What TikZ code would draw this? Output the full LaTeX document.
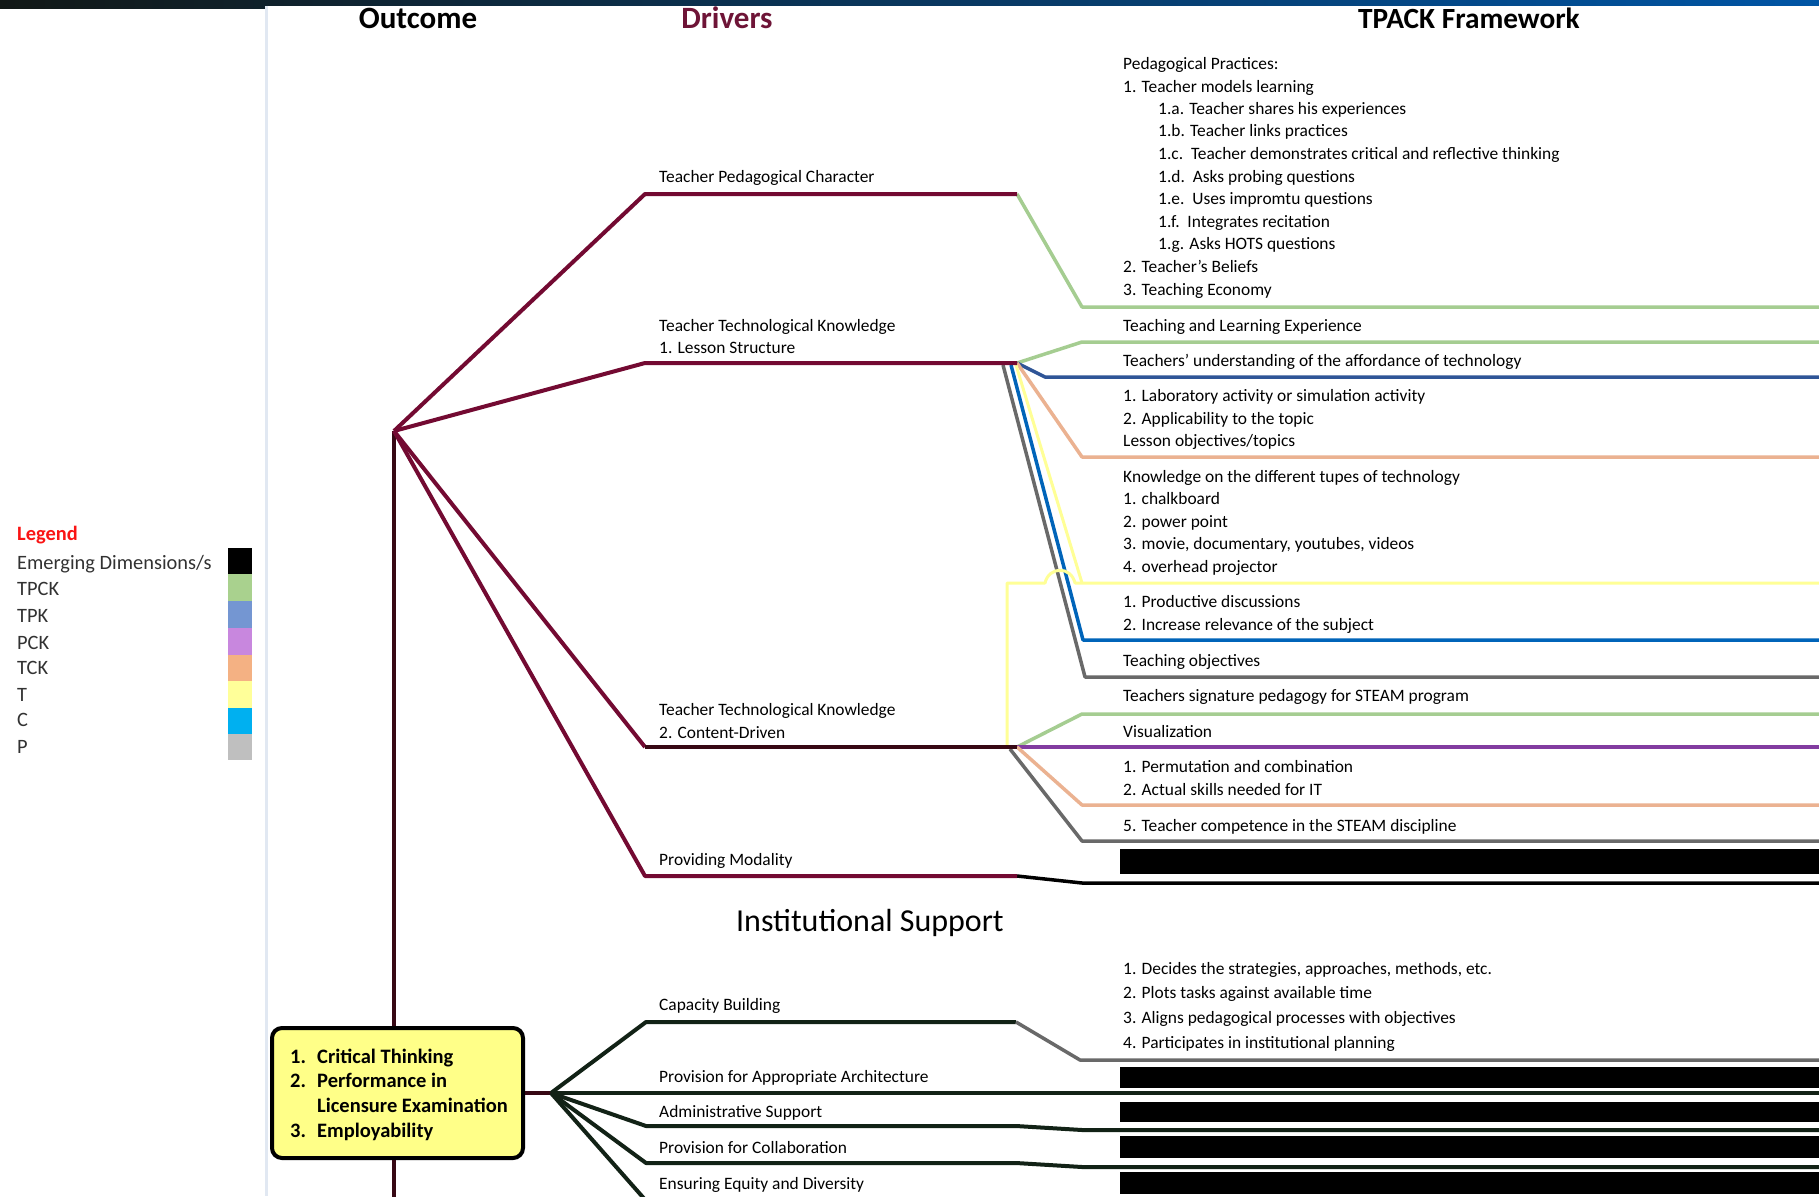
\documentclass[tikz,border=0pt]{standalone}
\usepackage{fontspec}
\setmainfont{Carlito}
\definecolor{maroon}{RGB}{115,10,50}
\definecolor{darkmar}{RGB}{55,8,20}
\definecolor{drvcol}{RGB}{110,20,55}
\definecolor{tpckc}{RGB}{165,205,145}
\definecolor{tpkc}{RGB}{47,85,151}
\definecolor{pckc}{RGB}{130,60,160}
\definecolor{tckc}{RGB}{235,178,145}
\definecolor{tyel}{RGB}{255,255,150}
\definecolor{cblue}{RGB}{0,100,185}
\definecolor{pgray}{RGB}{105,105,105}
\definecolor{instc}{RGB}{18,34,22}
\definecolor{boxyel}{RGB}{255,255,136}
\definecolor{legtxt}{RGB}{50,50,50}
\definecolor{legred}{RGB}{250,20,20}
\definecolor{lgreen}{RGB}{169,209,142}
\definecolor{lblue}{RGB}{116,150,210}
\definecolor{lpurple}{RGB}{200,135,222}
\definecolor{lorange}{RGB}{244,177,131}
\definecolor{lyellow}{RGB}{255,255,153}
\definecolor{lcyan}{RGB}{0,176,240}
\definecolor{lgray}{RGB}{191,191,191}
\definecolor{panelb}{RGB}{225,232,242}
\definecolor{stripL}{RGB}{18,24,22}
\definecolor{stripR}{RGB}{0,85,165}
\begin{document}
\begin{tikzpicture}[x=1pt,y=-1pt,
  txt/.style={anchor=mid west,inner sep=0pt,yshift=-3.5pt,font=\fontsize{17.4}{20}\selectfont},
  hdr/.style={anchor=base,inner sep=0pt,font=\fontsize{31}{36}\selectfont\bfseries},
  legtext/.style={anchor=mid west,inner sep=0pt,yshift=-4.5pt,font=\fontsize{20.4}{24}\selectfont,text=legtxt},
  ln-mar/.style={draw=maroon,line width=4,line join=round},
  ln-dmar/.style={draw=darkmar,line width=4,line join=round},
  ln-v/.style={draw=darkmar,line width=4},
  ln-tpck/.style={draw=tpckc,line width=3.5,line join=round},
  ln-tpk/.style={draw=tpkc,line width=3.5,line join=round},
  ln-pck/.style={draw=pckc,line width=3.5,line join=round},
  ln-tck/.style={draw=tckc,line width=3.5,line join=round},
  ln-t/.style={draw=tyel,line width=3,line join=round},
  ln-c/.style={draw=cblue,line width=3.5,line join=round},
  ln-p/.style={draw=pgray,line width=3.5,line join=round},
  ln-blk/.style={draw=black,line width=3.5,line join=round},
  ln-inst/.style={draw=instc,line width=4,line join=round},
  outbox/.style={draw=black,line width=4,fill=boxyel,rounded corners=10pt,minimum width=251pt,minimum height=130pt,inner sep=0pt},
  boxtxt/.style={anchor=west,inner sep=0pt,yshift=-2.5pt,align=left,font=\fontsize{20.5}{24.6}\selectfont\bfseries}
]
\useasboundingbox (0,0) rectangle (1819,1196);
\begin{scope}
\clip (0,0) rectangle (1819,1196);
% background
\fill[white] (0,0) rectangle (1819,1196);
\shade[left color=stripL,right color=stripR] (0,0) rectangle (1819,9);
\fill[white] (265,6) rectangle (1819,1196);
\draw[panelb,line width=3] (266.5,6) -- (266.5,1196);

% headers
\node[hdr] (hOut) at (418,29) {Outcome};
\node[hdr,text=drvcol] (hDrv) at (727,29) {Drivers};
\node[hdr,font=\fontsize{29.3}{34}\selectfont\bfseries] (hTp) at (1469,29) {TPACK Framework};
\node[anchor=base,inner sep=0pt,font=\fontsize{32}{38}\selectfont] (hInst) at (870,931) {Institutional Support};

% legend
\node[anchor=mid west,inner sep=0pt,yshift=-4.5pt,font=\fontsize{20.4}{24}\selectfont\bfseries,text=legred] (legT) at (17,534) {Legend};
\node[legtext] (lg1) at (17,563) {Emerging Dimensions/s};
\node[legtext] (lg2) at (17,589) {TPCK};
\node[legtext] (lg3) at (17,616) {TPK};
\node[legtext] (lg4) at (17,643) {PCK};
\node[legtext] (lg5) at (17,668) {TCK};
\node[legtext] (lg6) at (17,695) {T};
\node[legtext] (lg7) at (17,720) {C};
\node[legtext] (lg8) at (17,747) {P};
\fill[black] (228,548) rectangle (252,574);
\fill[lgreen] (228,574) rectangle (252,601);
\fill[lblue] (228,601) rectangle (252,628);
\fill[lpurple] (228,628) rectangle (252,655);
\fill[lorange] (228,655) rectangle (252,681);
\fill[lyellow] (228,681) rectangle (252,708);
\fill[lcyan] (228,708) rectangle (252,734);
\fill[lgray] (228,734) rectangle (252,760);

% coordinates
\coordinate (root) at (394,431);
\coordinate (tpcL) at (645,194); \coordinate (tpcR) at (1017,194);
\coordinate (lsL) at (645,363);  \coordinate (lsR) at (1017,363);
\coordinate (cdL) at (645,747);  \coordinate (cdR) at (1017,747);
\coordinate (pmL) at (645,876);  \coordinate (pmR) at (1017,876);
\coordinate (E) at (1819,0);

% outcome box
\node[outbox] (box) at (397.5,1093) {};
\node[boxtxt] (boxtext) at (290,1092) {\makebox[27pt][l]{1.}Critical Thinking\\ \makebox[27pt][l]{2.}Performance in\\ \makebox[27pt][l]{}Licensure Examination\\ \makebox[27pt][l]{3.}Employability};

% vertical trunk
\draw[ln-v] (root) -- (root |- box.north);
\draw[ln-v] (root |- box.south) -- (394,1200);

% TPACK right lines (drawn first, under the driver lines)
\draw[ln-tpck] (tpcR) -- (1082,307) -- (E |- 0,307);
\draw[ln-tpck] (lsR) -- (1082,342) -- (E |- 0,342);
\draw[ln-tpk] (lsR) -- (1045,377) -- (E |- 0,377);
\draw[ln-tck] (lsR) -- (1082,457) -- (E |- 0,457);
\draw[ln-p] (1003,365) -- (1085,677) -- (E |- 0,677);
\draw[ln-c] (1011,365) -- (1083,640) -- (E |- 0,640);
\draw[ln-t] (1016,365) -- (1082,583);
\draw[ln-t] (1007,746) -- (1007,583) -- (1045,583) .. controls (1049,566) and (1071,566) .. (1075,583) -- (E |- 0,583);
\draw[ln-tpck] (cdR) -- (1082,714) -- (E |- 0,714);
\draw[ln-pck] (cdR) -- (E |- cdR);
\draw[ln-tck] (cdR) -- (1082,805) -- (E |- 0,805);
\draw[ln-p] (1010,749) -- (1082,841) -- (E |- 0,841);
\draw[ln-blk] (pmR) -- (1082,883) -- (E |- 0,883);
\fill[black] (1120,849) rectangle (1819,874);

% driver branches
\draw[ln-mar] (root) -- (tpcL) -- (tpcR);
\draw[ln-mar] (root) -- (lsL) -- (lsR);
\draw[ln-mar] (root) -- (cdL);
\draw[ln-dmar] (cdL) -- (cdR);
\draw[ln-mar] (root) -- (pmL) -- (pmR);

% driver labels
\node[txt] (d1) at (659,177) {Teacher Pedagogical Character};
\node[txt] (d2a) at (659,326) {Teacher Technological Knowledge};
\node[txt] (d2b) at (659,348) {1. Lesson Structure};
\node[txt] (d3a) at (659,710) {Teacher Technological Knowledge};
\node[txt] (d3b) at (659,733) {2. Content-Driven};
\node[txt] (d4) at (659,860) {Providing Modality};

% TPACK texts
\node[txt] (p1) at (1123,64) {Pedagogical Practices:};
\node[txt] (p2) at (1123,87) {1. Teacher models learning};
\node[txt] (p3) at (1158,109) {1.a. Teacher shares his experiences};
\node[txt] (p4) at (1158,131) {1.b. Teacher links practices};
\node[txt] (p5) at (1158,154) {1.c.\ \ Teacher demonstrates critical and reflective thinking};
\node[txt] (p6) at (1158,177) {1.d.\ \ Asks probing questions};
\node[txt] (p7) at (1158,199) {1.e.\ \ Uses impromtu questions};
\node[txt] (p8) at (1158,222) {1.f.\ \ Integrates recitation};
\node[txt] (p9) at (1158,244) {1.g. Asks HOTS questions};
\node[txt] (p10) at (1123,267) {2. Teacher’s Beliefs};
\node[txt] (p11) at (1123,290) {3. Teaching Economy};
\node[txt] (q1) at (1123,326) {Teaching and Learning Experience};
\node[txt] (q2) at (1123,361) {Teachers’ understanding of the affordance of technology};
\node[txt] (q3) at (1123,396) {1. Laboratory activity or simulation activity};
\node[txt] (q4) at (1123,419) {2. Applicability to the topic};
\node[txt] (q5) at (1123,441) {Lesson objectives/topics};
\node[txt] (q6) at (1123,477) {Knowledge on the different tupes of technology};
\node[txt] (q7) at (1123,499) {1. chalkboard};
\node[txt] (q8) at (1123,522) {2. power point};
\node[txt] (q9) at (1123,544) {3. movie, documentary, youtubes, videos};
\node[txt] (q10) at (1123,567) {4. overhead projector};
\node[txt] (q11) at (1123,602) {1. Productive discussions};
\node[txt] (q12) at (1123,625) {2. Increase relevance of the subject};
\node[txt] (q13) at (1123,661) {Teaching objectives};
\node[txt] (q14) at (1123,696) {Teachers signature pedagogy for STEAM program};
\node[txt] (q15) at (1123,732) {Visualization};
\node[txt] (q16) at (1123,767) {1. Permutation and combination};
\node[txt] (q17) at (1123,790) {2. Actual skills needed for IT};
\node[txt] (q18) at (1123,826) {5. Teacher competence in the STEAM discipline};

% institutional support
\coordinate (ij) at (551,1093);
\draw[ln-dmar] (box.east) -- (ij);
\draw[ln-inst] (ij) -- (646,1022) -- (1016,1022);
\draw[ln-p] (1016,1022) -- (1080,1060) -- (E |- 0,1060);
\draw[ln-inst,line width=4.5] (ij) -- (E |- ij);
\draw[ln-inst] (ij) -- (646,1126) -- (1016,1126) -- (1082,1130) -- (E |- 0,1130);
\draw[ln-inst] (ij) -- (646,1163) -- (1016,1163) -- (1082,1167) -- (E |- 0,1167);
\draw[ln-inst] (ij) -- (648,1203) -- (1016,1203);
\fill[black] (1120,1067) rectangle (1819,1088);
\fill[black] (1120,1102) rectangle (1819,1122);
\fill[black] (1120,1136) rectangle (1819,1158);
\fill[black] (1120,1172) rectangle (1819,1194);

\node[txt] (i1) at (659,1005) {Capacity Building};
\node[txt] (i2) at (659,1077) {Provision for Appropriate Architecture};
\node[txt] (i3) at (659,1112) {Administrative Support};
\node[txt] (i4) at (659,1148) {Provision for Collaboration};
\node[txt] (i5) at (659,1184) {Ensuring Equity and Diversity};
\node[txt] (c1) at (1123,969) {1. Decides the strategies, approaches, methods, etc.};
\node[txt] (c2) at (1123,993) {2. Plots tasks against available time};
\node[txt] (c3) at (1123,1018) {3. Aligns pedagogical processes with objectives};
\node[txt] (c4) at (1123,1043) {4. Participates in institutional planning};
\end{scope}
\end{tikzpicture}
\end{document}
